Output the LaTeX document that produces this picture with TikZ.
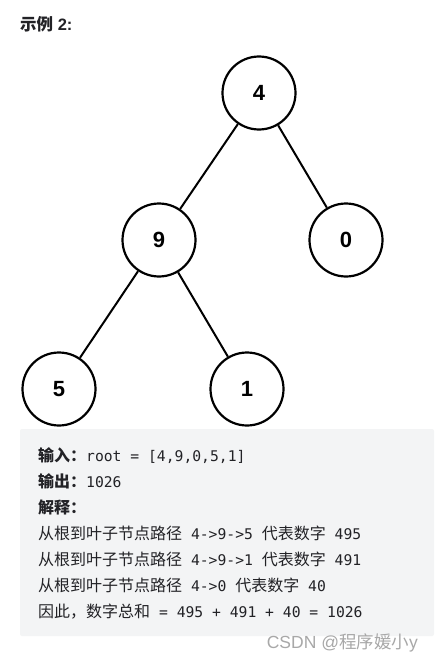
\documentclass[tikz,border=0pt]{standalone}
\usepackage{fontspec}
\setmainfont{Liberation Sans}
\setmonofont{DejaVu Sans Mono}
\newfontfamily\cjk{Noto Sans CJK SC}
\definecolor{boxbg}{HTML}{F3F4F5}
\definecolor{txtc}{HTML}{222226}
\definecolor{wm}{HTML}{A8A8A8}
\newcommand{\mono}[1]{{\ttfamily\fontsize{14.7}{18}\selectfont #1}}
\newcommand{\cj}[1]{{\cjk\fontsize{16}{18}\selectfont #1}}
\begin{document}
\begin{tikzpicture}[x=1pt,y=-1pt,
  tnode/.style={circle,draw=black,line width=2.2pt,minimum size=73pt,inner sep=0pt,font=\fontsize{22}{24}\selectfont\bfseries},
  edge/.style={line width=2pt},
  txt/.style={anchor=base west,inner sep=0pt,text=txtc,font=\fontsize{15}{18}\selectfont}]
\useasboundingbox (0,0) rectangle (434,661);
\fill[white] (0,0) rectangle (434,661);
\node[anchor=base west,inner sep=0pt,text=txtc,font=\fontsize{16.5}{18}\selectfont\bfseries] (title) at (20,31) {{\cjk 示例} 2:};
\node[tnode] (n4) at (259,93) {4};
\node[tnode] (n9) at (159,240) {9};
\node[tnode] (n0) at (346,240) {0};
\node[tnode] (n5) at (59,389) {5};
\node[tnode] (n1) at (247,389) {1};
\draw[edge] (n4) -- (n9);
\draw[edge] (n4) -- (n0);
\draw[edge] (n9) -- (n5);
\draw[edge] (n9) -- (n1);
\fill[boxbg, rounded corners=2pt] (20,429) rectangle (434,636);
\node[txt] (l1) at (38,461) {\cj{\bfseries 输入：}\mono{root = [4,9,0,5,1]}};
\node[txt] (l2) at (38,487) {\cj{\bfseries 输出：}\mono{1026}};
\node[txt] (l3) at (38,513) {\cj{\bfseries 解释：}};
\node[txt] (l4) at (38,539) {\cj{从根到叶子节点路径}\mono{ 4->9->5 }\cj{代表数字}\mono{ 495}};
\node[txt] (l5) at (38,565) {\cj{从根到叶子节点路径}\mono{ 4->9->1 }\cj{代表数字}\mono{ 491}};
\node[txt] (l6) at (38,591) {\cj{从根到叶子节点路径}\mono{ 4->0 }\cj{代表数字}\mono{ 40}};
\node[txt] (l7) at (38,617) {\cj{因此，数字总和}\mono{ = 495 + 491 + 40 = 1026}};
\node[anchor=base east,inner sep=0pt,text=wm,font=\fontsize{17.5}{20}\selectfont] (wmk) at (418,648) {CSDN @{\cjk 程序媛小}y};
\end{tikzpicture}
\end{document}
